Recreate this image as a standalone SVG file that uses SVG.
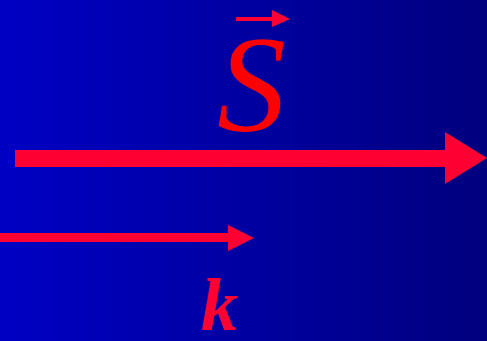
<svg xmlns="http://www.w3.org/2000/svg" width="487" height="341" viewBox="0 0 487 341">
<defs>
<linearGradient id="bg" x1="0" y1="0" x2="1" y2="0">
<stop offset="0" stop-color="#0000c4"/>
<stop offset="1" stop-color="#00007e"/>
</linearGradient>
<style>
.arr{fill:#ff0033}
.sym{font-family:"Liberation Serif","Times New Roman",serif;font-style:italic}
</style>
</defs>
<rect width="487" height="341" fill="url(#bg)"/>
<g id="connectors">
<polygon id="S-arrow" class="arr" points="15,150 445,150 445,132 487,158 445,184 445,167 15,167"/>
<polygon id="k-arrow" class="arr" points="0,233 228,233 228,225 254,238 228,251 228,242 0,242"/>
<polygon id="vec-arrow" class="arr" points="236,17 272,17 272,10 290,19 272,27 272,21 236,21"/>
</g>
<g id="S">
<text class="sym" x="217" y="131" font-size="138" fill="#ff0000">S</text>
</g>
<g id="k">
<text class="sym" x="201" y="330" font-size="74" font-weight="bold" fill="#ff0033">k</text>
</g>
</svg>
